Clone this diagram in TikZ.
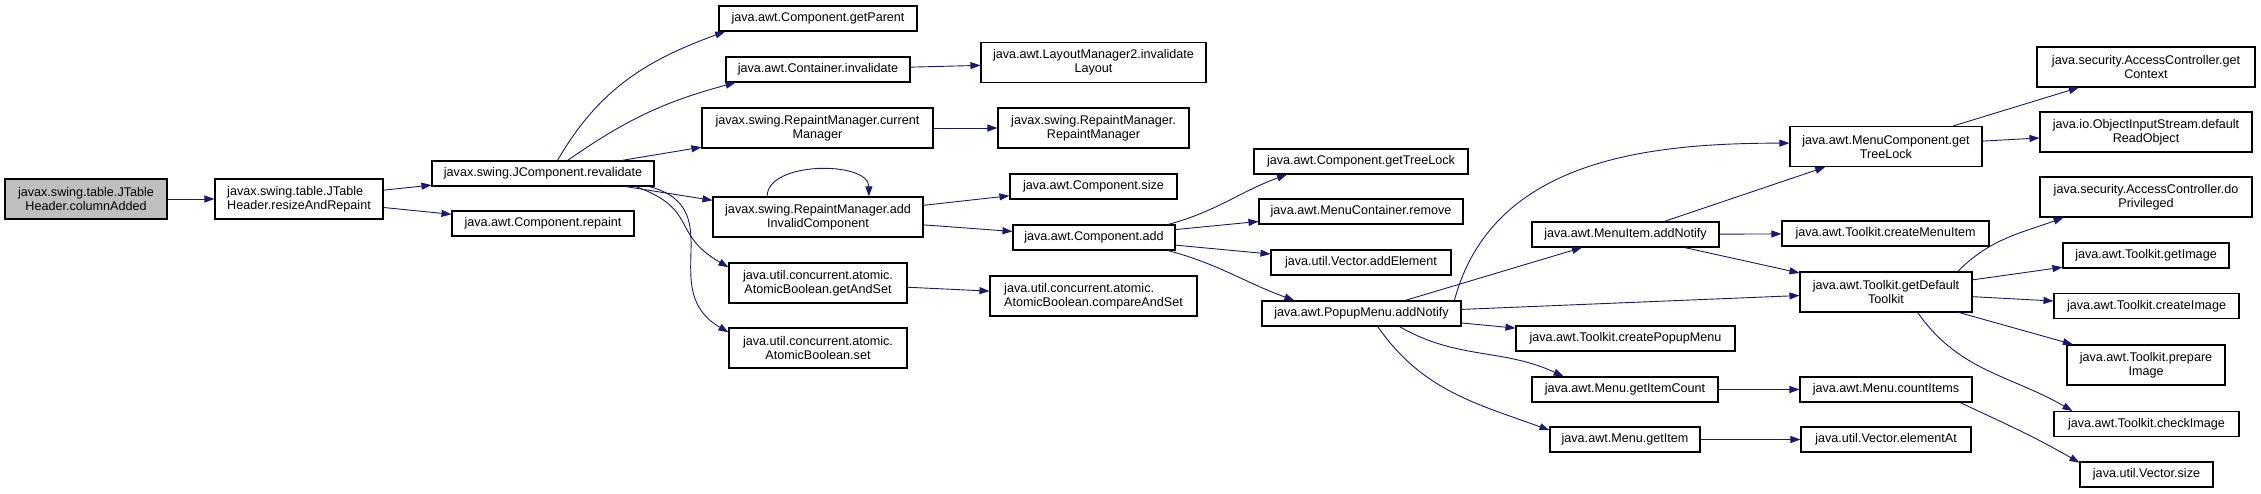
\documentclass[tikz,border=0pt]{standalone}
\usepackage{fontspec}
\setmainfont{Liberation Sans}
\usetikzlibrary{arrows.meta}

\begin{document}
\begin{tikzpicture}[
    x=1pt, y=-1pt,
    func/.style={rectangle, draw=black, line width=1.1pt, fill=white, inner sep=1pt, align=center, font=\fontsize{12.6}{14}\selectfont},
    root/.style={func, fill=black!25},
    link/.style={draw=midnightblue, line width=0.9pt, -{Triangle[length=10pt,width=7pt]}}
]
\definecolor{midnightblue}{HTML}{191970}
\useasboundingbox (0,0) rectangle (2261,493);

% Functions
\node[root, minimum width=162, minimum height=40] (colAdded) at (86,199) {javax.swing.table.JTable\\Header.columnAdded};
\node[func, minimum width=168, minimum height=40, align=left] (resize) at (299,199) {javax.swing.table.JTable\\Header.resizeAndRepaint};
\node[func, minimum width=222, minimum height=25] (revalidate) at (543,173.5) {javax.swing.JComponent.revalidate};
\node[func, minimum width=182, minimum height=25] (repaint) at (543,223.5) {java.awt.Component.repaint};

\node[func, minimum width=198, minimum height=25] (getParent) at (818,18.5) {java.awt.Component.getParent};
\node[func, minimum width=184, minimum height=25] (contInval) at (818,69.5) {java.awt.Container.invalidate};
\node[func, minimum width=231, minimum height=40] (curMgr) at (817.5,128) {javax.swing.RepaintManager.current\\Manager};
\node[func, minimum width=210, minimum height=40] (addInval) at (818,217) {javax.swing.RepaintManager.add\\InvalidComponent};
\node[func, minimum width=178, minimum height=40] (getAndSet) at (818,283) {java.util.concurrent.atomic.\\AtomicBoolean.getAndSet};
\node[func, minimum width=178, minimum height=40] (abSet) at (818,348) {java.util.concurrent.atomic.\\AtomicBoolean.set};

\node[func, minimum width=225, minimum height=40] (layoutInval) at (1093.5,62.5) {java.awt.LayoutManager2.invalidate\\Layout};
\node[func, minimum width=191, minimum height=40] (rmCtor) at (1093.5,128) {javax.swing.RepaintManager.\\RepaintManager};
\node[func, minimum width=167, minimum height=25] (compSize) at (1093.5,186.5) {java.awt.Component.size};
\node[func, minimum width=162, minimum height=25] (compAdd) at (1094,237.5) {java.awt.Component.add};
\node[func, minimum width=207, minimum height=40, align=left] (cas) at (1093.5,296) {java.util.concurrent.atomic.\\AtomicBoolean.compareAndSet};

\node[func, minimum width=214, minimum height=25] (compTreeLock) at (1361,161.5) {java.awt.Component.getTreeLock};
\node[func, minimum width=204, minimum height=25] (mcRemove) at (1361,211.5) {java.awt.MenuContainer.remove};
\node[func, minimum width=180, minimum height=25] (vecAdd) at (1361,262.5) {java.util.Vector.addElement};
\node[func, minimum width=199, minimum height=25] (popupAdd) at (1361.5,313.5) {java.awt.PopupMenu.addNotify};

\node[func, minimum width=187, minimum height=25] (menuItemAdd) at (1625.5,234.5) {java.awt.MenuItem.addNotify};
\node[func, minimum width=219, minimum height=25] (createPopup) at (1625.5,338.5) {java.awt.Toolkit.createPopupMenu};
\node[func, minimum width=186, minimum height=25] (itemCount) at (1625,389.5) {java.awt.Menu.getItemCount};
\node[func, minimum width=150, minimum height=25] (getItem) at (1625,439.5) {java.awt.Menu.getItem};

\node[func, minimum width=192, minimum height=40] (mcTreeLock) at (1886,146.5) {java.awt.MenuComponent.get\\TreeLock};
\node[func, minimum width=207, minimum height=25] (createMenuItem) at (1885.5,233.5) {java.awt.Toolkit.createMenuItem};
\node[func, minimum width=172, minimum height=40] (defTk) at (1886,292) {java.awt.Toolkit.getDefault\\Toolkit};
\node[func, minimum width=172, minimum height=25] (countItems) at (1886,389.5) {java.awt.Menu.countItems};
\node[func, minimum width=170, minimum height=25] (elementAt) at (1886,439.5) {java.util.Vector.elementAt};

\node[func, minimum width=218, minimum height=40] (getCtx) at (2146,67) {java.security.AccessController.get\\Context};
\node[func, minimum width=212, minimum height=40] (readObj) at (2146,132) {java.io.ObjectInputStream.default\\ReadObject};
\node[func, minimum width=212, minimum height=40] (doPriv) at (2146,197) {java.security.AccessController.do\\Privileged};
\node[func, minimum width=166, minimum height=25] (getImg) at (2146,255.5) {java.awt.Toolkit.getImage};
\node[func, minimum width=185, minimum height=25] (createImg) at (2146.5,306) {java.awt.Toolkit.createImage};
\node[func, minimum width=158, minimum height=40] (prepImg) at (2146,365) {java.awt.Toolkit.prepare\\Image};
\node[func, minimum width=185, minimum height=25] (checkImg) at (2146.5,424) {java.awt.Toolkit.checkImage};
\node[func, minimum width=133, minimum height=25] (vecSize) at (2146.5,474.5) {java.util.Vector.size};

% Calls
\draw[link] (colAdded) -- (resize);
\draw[link] (resize) -- (revalidate);
\draw[link] (resize) -- (repaint);
\draw[link] (revalidate.42) to[out=60, in=200] (getParent.188);
\draw[link] (revalidate.28) to[out=35, in=195] (contInval.189);
\draw[link] (revalidate) -- (curMgr);
\draw[link] (revalidate) -- (addInval);
\draw[link] (revalidate.-8) to[out=-20, in=150, looseness=1.4] (getAndSet.170);
\draw[link] (revalidate.-7) to[out=-15, in=150, looseness=1.3] (abSet.170);
\draw[link] (contInval) -- (layoutInval);
\draw[link] (curMgr) -- (rmCtor);
\draw[link] (addInval.158) to[out=90, in=90, looseness=0.9] (addInval.22);
\draw[link] (addInval) -- (compSize);
\draw[link] (addInval) -- (compAdd);
\draw[link] (getAndSet) -- (cas);
\draw[link] (compAdd.10) to[out=15, in=200] (compTreeLock.190);
\draw[link] (compAdd) -- (mcRemove);
\draw[link] (compAdd) -- (vecAdd);
\draw[link] (compAdd.-10) to[out=-15, in=160] (popupAdd.169);
\draw[link] (popupAdd.8) to[out=75, in=180] (mcTreeLock.178);
\draw[link] (popupAdd) -- (menuItemAdd);
\draw[link] (popupAdd) -- (defTk);
\draw[link] (popupAdd) -- (createPopup);
\draw[link] (popupAdd.-19) to[out=-30, in=155] (itemCount.168);
\draw[link] (popupAdd.-39) to[out=-55, in=160] (getItem.173);
\draw[link] (menuItemAdd) -- (mcTreeLock);
\draw[link] (menuItemAdd) -- (createMenuItem);
\draw[link] (menuItemAdd) -- (defTk);
\draw[link] (mcTreeLock) -- (getCtx);
\draw[link] (mcTreeLock) -- (readObj);
\draw[link] (defTk.16) to[out=45, in=200] (doPriv.194);
\draw[link] (defTk) -- (getImg);
\draw[link] (defTk) -- (createImg);
\draw[link] (defTk) -- (prepImg);
\draw[link] (defTk.-33) to[out=-55, in=150] (checkImg.170);
\draw[link] (itemCount) -- (countItems);
\draw[link] (countItems.-10) to[out=-25, in=150] (vecSize.170);
\draw[link] (getItem) -- (elementAt);

\end{tikzpicture}
\end{document}
